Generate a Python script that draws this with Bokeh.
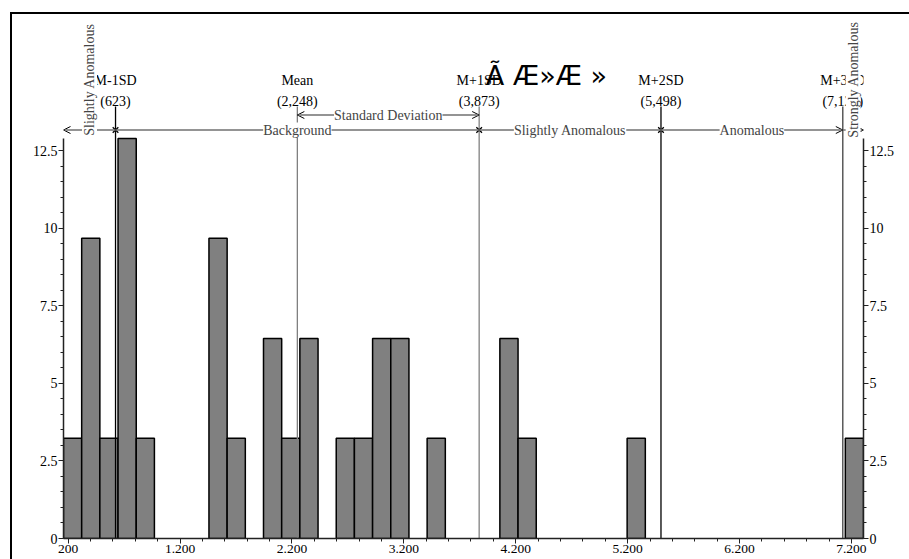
import numpy as np
from bokeh.plotting import figure
from bokeh.models import (Range1d, LinearAxis, FixedTicker, Label, Arrow,
                          OpenHead)
from bokeh.embed import file_html
from bokeh.resources import INLINE

# ---------------- data ----------------
bin_start = 158.0
bin_width = 162.5
bar_heights = [3.23, 9.68, 3.23, 12.9, 3.23, 0, 0, 0, 9.68, 3.23,
               0, 6.45, 3.23, 6.45, 0, 3.23, 3.23, 6.45, 6.45, 0,
               3.23, 0, 0, 0, 6.45, 3.23, 0, 0, 0, 0,
               0, 3.23, 0, 0, 0, 0, 0, 0, 0, 0,
               0, 0, 0, 3.23]
stat_names = ["M-1SD", "Mean", "M+1SD", "M+2SD", "M+3SD"]
stat_values = [623, 2248, 3873, 5498, 7123]
zone_labels = ["Slightly Anomalous", "Background", "Slightly Anomalous",
               "Anomalous", "Strongly Anomalous"]
x_ticks = [200, 1200, 2200, 3200, 4200, 5200, 6200, 7200]
x_tick_labels = ["200", "1.200", "2.200", "3.200", "4.200", "5.200", "6.200", "7.200"]
y_ticks = [0, 2.5, 5, 7.5, 10, 12.5]
y_tick_labels = ["0", "2.5", "5", "7.5", "10", "12.5"]
title_text = "Ã Æ»Æ »"
sd_label = "Standard Deviation"

# ---------------- layout ----------------
W, H = 909, 559
ML, MR, MT, MB = 63, 46, 0, 21
n_bins = len(bar_heights)
x0 = bin_start
x1 = bin_start + n_bins * bin_width
y_max = max(bar_heights)
FL = ML                  # canvas x of frame left
FW = W - ML - MR         # frame width
FB = H - MB              # canvas y of frame bottom
FT = MT
HIST_TOP = 138           # canvas y of histogram top
ppx = FW / (x1 - x0)
ppu = (FB - HIST_TOP) / y_max
y_end = (FB - FT) / ppu


def X(cx):
    return x0 + (cx - FL) / ppx


def Y(cy):
    return (FB - cy) / ppu


SERIF = "Liberation Serif"

p = figure(width=W, height=H, x_range=Range1d(x0, x1), y_range=Range1d(0, y_end),
           output_backend="svg", toolbar_location=None,
           min_border_left=ML, min_border_right=MR, min_border_top=MT,
           min_border_bottom=MB)
p.outline_line_color = None
p.xgrid.visible = False
p.ygrid.visible = False
p.background_fill_color = "white"
p.border_fill_color = "white"
# outer black frame of the original image (top and left edges)
p.stylesheets = [":host::before { content: ''; position: absolute; left: 10px; top: 12px;"
                 " right: 0px; bottom: 0px; border-left: 2px solid black;"
                 " border-top: 2px solid black; pointer-events: none; z-index: 10; }"]

# axes
xa = p.xaxis[0]
xa.ticker = FixedTicker(ticks=x_ticks, minor_ticks=list(range(200, 7201, 200)))
xa.major_label_overrides = {t: l for t, l in zip(x_ticks, x_tick_labels)}
ya = p.yaxis[0]
yr = LinearAxis()
p.add_layout(yr, "right")
for ax in (ya, yr):
    ax.ticker = FixedTicker(ticks=y_ticks, minor_ticks=[i * 0.5 for i in range(26)])
    ax.major_label_overrides = {t: l for t, l in zip(y_ticks, y_tick_labels)}
    ax.bounds = (0, y_max)
for ax in (xa, ya, yr):
    ax.axis_line_color = "#222222"
    ax.axis_line_width = 1.5
    ax.major_tick_line_color = "#222222"
    ax.minor_tick_line_color = "#222222"
    ax.major_tick_in = 0
    ax.minor_tick_in = 0
    ax.major_tick_out = 5
    ax.minor_tick_out = 3
    ax.major_label_text_font = SERIF
    ax.major_label_text_font_size = "14px"
    ax.major_label_text_color = "black"
    ax.major_label_standoff = 1
xa.major_label_text_font_size = "13.5px"

# bars
lefts = [x0 + i * bin_width for i, h in enumerate(bar_heights) if h > 0]
rights = [l + bin_width for l in lefts]
tops = [h for h in bar_heights if h > 0]
p.quad(left=lefts, right=rights, top=tops, bottom=0, fill_color="#808080",
       line_color="black", line_width=1.5)

# vertical statistic lines
line_colors = ["black", "#808080", "#808080", "black", "#404040"]
p.segment(x0=stat_values, y0=0, x1=stat_values, y1=Y(106),
          line_color=line_colors, line_width=1.3)

# zone line with arrows
zy = Y(129.5)
GRAY = "#707070"
m1, mean, p1, p2, p3 = stat_values
zone_bounds = [x0, m1, p1, p2, p3, x1]
p.add_layout(Arrow(x_start=m1, y_start=zy, x_end=x0, y_end=zy,
                   line_color=GRAY, line_width=1.5,
                   end=OpenHead(size=7, line_color="black", line_width=1)))
p.add_layout(Arrow(x_start=m1, y_start=zy, x_end=p2, y_end=zy,
                   line_color=GRAY, line_width=1.5, end=None))
p.add_layout(Arrow(x_start=p2, y_start=zy, x_end=p3, y_end=zy,
                   line_color=GRAY, line_width=1.5,
                   end=OpenHead(size=7, line_color="black", line_width=1)))
p.add_layout(Arrow(x_start=p3, y_start=zy, x_end=x1, y_end=zy,
                   line_color=GRAY, line_width=1.5,
                   end=OpenHead(size=4, line_color="black", line_width=1)))
p.scatter(x=[m1, p1, p2], y=[zy] * 3,
          marker="x", size=8, line_color="black", line_width=1.3)

# standard deviation arrow
sy = Y(114.5)
p.add_layout(Arrow(x_start=mean, y_start=sy, x_end=p1, y_end=sy,
                   line_color=GRAY, line_width=1.5,
                   start=OpenHead(size=7, line_color="black", line_width=1),
                   end=OpenHead(size=7, line_color="black", line_width=1)))
p.add_layout(Label(x=(mean + p1) / 2, y=sy, text=sd_label,
                   text_font=SERIF, text_font_size="14px", text_align="center",
                   text_baseline="middle", background_fill_color="white"))

# statistic names and values
for name, v in zip(stat_names, stat_values):
    p.add_layout(Label(x=v, y=Y(79.5), text=name, text_font=SERIF,
                       text_font_size="14px", text_align="center",
                       text_baseline="middle", text_color="black"))
    p.add_layout(Label(x=v, y=Y(100.5), text="({:,})".format(v), text_font=SERIF,
                       text_font_size="14px", text_align="center",
                       text_baseline="middle", text_color="black"))

# zone labels
for i, lab in enumerate(zone_labels):
    cx = (zone_bounds[i] + zone_bounds[i + 1]) / 2
    if i in (0, 4):
        p.add_layout(Label(x=cx, y=Y(79), text=lab, text_font=SERIF,
                           text_font_size="14px", text_align="center",
                           text_baseline="middle", angle=90, angle_units="deg",
                           background_fill_color="white"))
    else:
        p.add_layout(Label(x=cx, y=zy, text=lab, text_font=SERIF,
                           text_font_size="14px", text_align="center",
                           text_baseline="middle", background_fill_color="white"))

# title
p.add_layout(Label(x=X(546), y=Y(75), text=title_text, text_font="DejaVu Sans",
                   text_font_size="27px", text_align="center",
                   text_baseline="alphabetic", text_color="black"))

open("out.html", "w").write(file_html(p, INLINE))
